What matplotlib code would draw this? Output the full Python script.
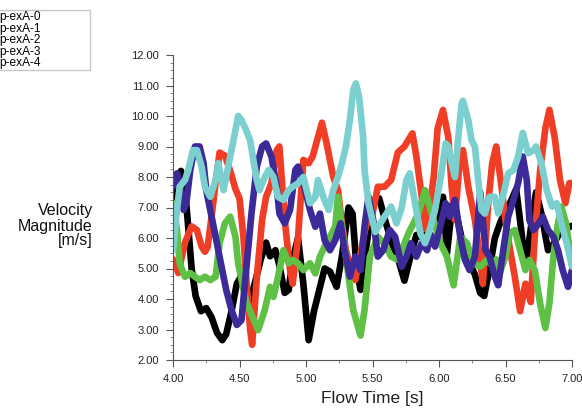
import matplotlib
matplotlib.use("Agg")
import matplotlib.pyplot as plt
from matplotlib.ticker import MultipleLocator, FormatStrFormatter

plt.rcParams['font.family'] = ['Liberation Sans', 'DejaVu Sans']

labels = ["p-exA-0", "p-exA-1", "p-exA-2", "p-exA-3", "p-exA-4"]
colors = ["#000000", "#f03e26", "#5ec044", "#3b2a97", "#7bd0cf"]

t0 = [4.00,4.03,4.06,4.09,4.11,4.14,4.17,4.21,4.25,4.29,4.33,4.37,4.40,4.44,4.48,4.52,4.55,4.58,4.62,4.66,
      4.70,4.73,4.77,4.80,4.84,4.87,4.90,4.94,4.98,5.02,5.06,5.10,5.14,5.18,5.21,5.23,5.27,5.32,5.35,5.38,
      5.41,5.45,5.50,5.55,5.60,5.65,5.70,5.74,5.78,5.83,5.88,5.93,5.98,6.03,6.06,6.10,6.13,6.17,6.22,6.27,
      6.31,6.34,6.38,6.42,6.46,6.50,6.54,6.58,6.62,6.65,6.69,6.73,6.77,6.82,6.86,6.90,6.95,7.00]
v0 = [6.4,7.9,8.2,7.6,6.6,5.0,4.1,3.6,3.7,3.4,2.9,2.65,2.85,3.6,4.5,4.8,4.3,3.95,4.6,5.3,
      5.85,5.4,5.6,5.1,4.2,4.3,5.3,6.0,4.5,2.65,3.6,4.3,5.0,4.9,4.6,4.4,5.4,7.0,6.8,5.0,
      4.3,5.6,7.2,7.3,6.5,5.8,5.2,4.6,5.3,6.1,6.0,6.3,6.6,7.35,5.5,7.1,6.8,6.0,5.3,4.8,
      4.2,4.1,5.0,6.0,6.5,6.9,7.2,7.6,6.2,5.0,6.3,7.5,6.8,5.6,5.8,6.1,6.3,6.4]

t1 = [4.00,4.015,4.04,4.09,4.14,4.18,4.215,4.24,4.26,4.29,4.32,4.35,4.39,4.43,4.47,4.50,4.53,4.555,4.58,4.595,
      4.63,4.67,4.70,4.74,4.78,4.80,4.84,4.88,4.90,4.94,4.98,5.02,5.05,5.12,5.155,5.205,5.24,5.27,5.30,5.34,
      5.37,5.41,5.45,5.50,5.54,5.59,5.64,5.69,5.74,5.80,5.83,5.87,5.90,5.93,5.96,5.99,6.03,6.07,6.095,6.12,
      6.16,6.18,6.22,6.27,6.31,6.33,6.37,6.40,6.43,6.47,6.50,6.53,6.57,6.61,6.65,6.69,6.72,6.76,6.80,6.83,
      6.87,6.91,6.95,6.98,7.00]
v1 = [5.3,5.2,4.85,5.85,6.38,6.26,5.72,5.55,5.7,6.7,7.8,8.8,8.7,8.2,7.6,7.3,6.0,4.4,3.0,2.5,
      4.7,6.6,7.35,7.8,8.88,9.0,6.6,4.95,4.5,6.0,8.56,8.45,8.67,9.78,9.1,8.0,7.57,6.48,5.6,4.95,
      4.62,5.5,6.4,6.8,7.68,7.68,7.9,8.8,9.0,9.43,8.67,7.35,6.3,7.0,8.0,9.6,10.2,9.3,7.68,6.59,
      8.8,8.88,7.68,6.59,5.28,4.5,7.14,8.45,9.0,7.68,6.59,5.72,4.73,3.6,4.5,3.9,6.04,8.2,9.6,10.2,
      9.3,7.9,7.14,7.8,7.8]

t2 = [4.00,4.03,4.05,4.09,4.13,4.165,4.20,4.24,4.28,4.32,4.35,4.39,4.43,4.47,4.49,4.55,4.64,4.69,4.73,4.755,
      4.79,4.83,4.87,4.90,4.94,4.98,5.03,5.07,5.105,5.14,5.18,5.22,5.24,5.28,5.32,5.355,5.41,5.44,5.48,5.54,
      5.59,5.64,5.69,5.77,5.845,5.895,5.945,6.01,6.06,6.11,6.16,6.21,6.26,6.31,6.36,6.41,6.43,6.46,6.50,6.53,
      6.57,6.61,6.65,6.68,6.72,6.76,6.80,6.83,6.86,6.89,6.92,6.955,6.99,7.00]
v2 = [7.14,6.26,5.17,4.73,4.85,4.73,4.62,4.73,4.62,4.73,5.83,6.48,6.7,6.04,5.17,3.9,2.98,3.64,4.4,4.07,
      4.73,5.6,5.17,5.28,5.17,4.95,5.17,4.84,5.39,5.72,6.04,6.37,7.35,6.04,4.73,3.64,2.8,3.64,5.39,6.04,
      5.8,5.39,5.28,6.15,6.8,7.57,6.8,5.83,5.39,4.45,6.04,5.83,5.17,5.06,5.28,5.06,5.3,4.9,5.39,6.15,
      6.26,5.6,4.95,5.28,4.95,3.86,3.05,3.86,5.39,6.37,7.03,6.48,5.39,5.1]

t3 = [4.00,4.03,4.05,4.08,4.10,4.13,4.165,4.20,4.23,4.25,4.29,4.33,4.37,4.40,4.44,4.48,4.515,4.55,4.59,4.63,
      4.67,4.70,4.74,4.78,4.80,4.84,4.88,4.92,4.94,4.98,5.03,5.07,5.105,5.14,5.18,5.22,5.26,5.29,5.33,5.37,
      5.41,5.44,5.47,5.51,5.54,5.58,5.63,5.67,5.72,5.755,5.79,5.83,5.87,5.91,5.94,5.97,6.01,6.05,6.08,6.12,
      6.16,6.195,6.23,6.27,6.31,6.35,6.38,6.42,6.445,6.48,6.52,6.56,6.595,6.63,6.66,6.68,6.71,6.75,6.78,6.82,
      6.86,6.895,6.93,6.97,7.00]
v3 = [7.68,8.12,7.79,6.92,7.14,8.23,9.0,9.0,8.45,7.57,6.7,5.83,4.95,4.3,3.64,3.15,3.31,4.95,6.8,8.34,
      9.0,9.1,8.67,7.68,6.8,6.48,6.92,8.23,8.34,7.8,6.92,6.37,6.8,5.93,5.6,5.93,6.48,5.6,4.73,5.39,
      4.95,6.37,7.35,6.48,5.39,5.6,6.26,6.04,5.06,5.39,5.83,5.39,5.83,5.6,6.1,5.72,6.37,7.14,6.7,7.25,
      6.04,5.28,4.95,5.39,7.5,5.6,5.39,4.73,4.45,5.5,6.7,7.25,7.8,8.67,7.9,6.59,6.26,6.48,6.7,6.26,
      6.04,5.6,4.95,4.4,4.95]

t4 = [4.00,4.03,4.05,4.09,4.115,4.15,4.18,4.215,4.24,4.28,4.32,4.34,4.38,4.415,4.45,4.49,4.515,4.55,4.58,4.60,
      4.63,4.65,4.69,4.72,4.755,4.79,4.83,4.87,4.90,4.94,4.98,5.03,5.07,5.09,5.13,5.17,5.205,5.24,5.27,5.30,
      5.33,5.355,5.375,5.40,5.43,5.44,5.47,5.52,5.59,5.64,5.68,5.72,5.755,5.78,5.82,5.86,5.895,5.93,5.97,6.01,
      6.05,6.07,6.095,6.12,6.145,6.17,6.18,6.22,6.245,6.27,6.295,6.32,6.345,6.38,6.42,6.445,6.48,6.52,6.56,6.595,
      6.63,6.67,6.71,6.73,6.77,6.81,6.85,6.885,6.92,6.96,7.00]
v4 = [5.6,6.92,7.68,7.9,8.23,8.88,8.88,8.34,7.68,7.35,7.9,8.45,7.57,8.34,9.1,10.0,9.87,9.54,9.2,8.67,
      7.9,7.57,8.0,8.23,8.0,7.35,7.25,7.57,7.68,7.79,8.0,7.14,7.35,7.9,7.35,6.92,7.57,8.0,8.45,9.0,
      9.87,10.84,11.07,10.6,9.3,8.23,7.14,6.2,6.7,7.03,6.48,7.0,7.9,8.12,7.14,6.15,5.83,6.26,6.92,7.9,
      9.1,9.0,8.45,8.0,9.3,10.4,10.5,9.87,9.2,9.0,7.9,6.92,6.8,7.35,7.35,6.8,7.35,8.12,8.23,8.67,
      9.45,8.78,8.88,9.0,8.45,7.57,7.03,7.14,6.48,5.83,5.06]

times = [t0, t1, t2, t3, t4]
values = [v0, v1, v2, v3, v4]

fig = plt.figure(figsize=(5.82, 4.12), dpi=100)
ax = fig.add_axes([173/582, 1-360/412, (572-173)/582, (360-55)/412])

lines = []
for t, v, c, lab in zip(times, values, colors, labels):
    ln, = ax.plot(t, v, color=c, lw=4.8, solid_joinstyle='round', solid_capstyle='round', label=lab)
    lines.append(ln)

ax.set_xlim(4.0, 7.0)
ax.set_ylim(2.0, 12.0)
ax.xaxis.set_major_locator(MultipleLocator(0.5))
ax.xaxis.set_minor_locator(MultipleLocator(0.25))
ax.yaxis.set_major_locator(MultipleLocator(1.0))
ax.yaxis.set_minor_locator(MultipleLocator(0.25))
ax.xaxis.set_major_formatter(FormatStrFormatter('%.2f'))
ax.yaxis.set_major_formatter(FormatStrFormatter('%.2f'))
for s in ['top', 'right']:
    ax.spines[s].set_visible(False)
for s in ['left', 'bottom']:
    ax.spines[s].set_color('#555555')
    ax.spines[s].set_linewidth(0.8)
ax.tick_params(which='major', length=5, width=0.8, color='#555555', labelsize=8, pad=5, labelcolor='#222222')
ax.tick_params(which='minor', length=2.5, width=0.6, color='#777777')

ax.set_xlabel("Flow Time [s]", fontsize=12.5, labelpad=5, color='#222222')
fig.text(93/582, 1-226/412, "Velocity\nMagnitude\n[m/s]", ha='right', va='center',
         fontsize=11.5, multialignment='right', linespacing=1.0, color='#111111')

leg = fig.legend(lines, labels, loc='upper left',
                 bbox_to_anchor=(-0.004, 0, 92/582, 1-10/412), mode='expand',
                 handlelength=0, handletextpad=0, labelspacing=-0.04, borderpad=0.1,
                 borderaxespad=0, fontsize=8.6, fancybox=False, framealpha=1,
                 edgecolor='#c8c8c8')
for h in leg.legend_handles:
    h.set_visible(False)
leg.get_frame().set_linewidth(1.0)

fig.savefig("out.png", dpi=100)
